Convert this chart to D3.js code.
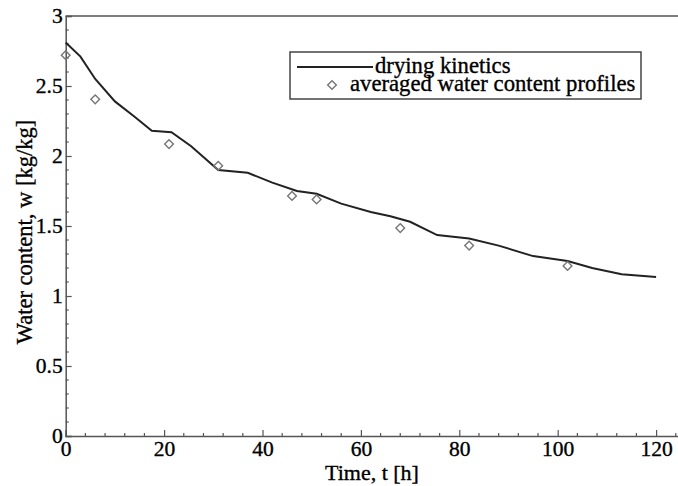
<!DOCTYPE html>
<html>
<head>
<meta charset="utf-8">
<script src="https://cdn.jsdelivr.net/npm/d3@7/dist/d3.min.js"></script>
<style>
  html, body { margin: 0; padding: 0; background: #fff; }
  svg { display: block; }
  text { font-family: "Liberation Serif", "Times New Roman", serif; fill: #000; stroke: #000; stroke-width: 0.35px; }
</style>
</head>
<body>
<svg id="chart" width="678" height="486"></svg>
<script>
// Drying kinetics curve (time h, water content kg/kg)
const lineTime  = [0, 3, 6, 10, 14, 17.5, 21.5, 25.5, 31, 37, 42, 47, 51, 56, 62, 66, 70, 75.5, 82, 88, 95, 102, 107, 113, 120];
const lineWater = [2.81, 2.71, 2.55, 2.39, 2.28, 2.18, 2.17, 2.07, 1.90, 1.88, 1.81, 1.75, 1.73, 1.66, 1.60, 1.57, 1.53, 1.435, 1.41, 1.36, 1.285, 1.25, 1.20, 1.155, 1.135];
// Averaged water content profiles
const pointTime  = [0, 6, 21, 31, 46, 51, 68, 82, 102];
const pointWater = [2.72, 2.405, 2.085, 1.93, 1.715, 1.69, 1.485, 1.36, 1.215];
// Ticks
const xTicks = [0, 20, 40, 60, 80, 100, 120];
const yTicks = [0, 0.5, 1, 1.5, 2, 2.5, 3];
const yTickLabels = ["0", "0.5", "1", "1.5", "2", "2.5", "3"];
const seriesNames = ["drying kinetics", "averaged water content profiles"];

const svg = d3.select("#chart");
const x = d3.scaleLinear().domain([0, 125]).range([65.7, 680.7]);
const y = d3.scaleLinear().domain([0, 3]).range([436, 16]);

const axisColor = "#555";
const tickFont = 21.5;

// minor ticks
const xMinor = d3.range(0, 125, 4).filter(v => v % 20 !== 0);
const yMinor = d3.range(0, 3.001, 0.1).map(v => +v.toFixed(1)).filter(v => Math.abs(v * 2 - Math.round(v * 2)) > 1e-6);

const g = svg.append("g");

// top frame line
g.append("line").attr("x1", x(0)).attr("x2", 680).attr("y1", y(3)).attr("y2", y(3))
  .attr("stroke", axisColor).attr("stroke-width", 1.5);

// x axis
const xAxis = d3.axisBottom(x).tickValues(xTicks).tickSize(-6).tickPadding(4.5).tickFormat(d3.format("d"));
const gx = g.append("g").attr("transform", `translate(0,${y(0)})`).call(xAxis);
gx.select(".domain").attr("stroke", axisColor).attr("stroke-width", 1.5);
gx.selectAll(".tick line").attr("stroke", axisColor).attr("stroke-width", 1.2);
gx.selectAll(".tick text").attr("font-size", tickFont).attr("font-family", "Liberation Serif").attr("fill", "#000");
gx.selectAll(".minor").data(xMinor).enter().append("line")
  .attr("x1", d => x(d)).attr("x2", d => x(d)).attr("y1", 0).attr("y2", -3)
  .attr("stroke", axisColor).attr("stroke-width", 1.2);

// y axis
const yAxis = d3.axisLeft(y).tickValues(yTicks).tickSize(-6).tickPadding(3).tickFormat((d, i) => yTickLabels[i]);
const gy = g.append("g").attr("transform", `translate(${x(0)},0)`).call(yAxis);
gy.select(".domain").attr("stroke", axisColor).attr("stroke-width", 1.5);
gy.selectAll(".tick line").attr("stroke", axisColor).attr("stroke-width", 1.2);
gy.selectAll(".tick text").attr("font-size", tickFont).attr("font-family", "Liberation Serif").attr("fill", "#000");
gy.selectAll(".minor").data(yMinor).enter().append("line")
  .attr("y1", d => y(d)).attr("y2", d => y(d)).attr("x1", 0).attr("x2", 3)
  .attr("stroke", axisColor).attr("stroke-width", 1.2);

// line
const lineData = lineTime.map((t, i) => [t, lineWater[i]]);
g.append("path").datum(lineData)
  .attr("d", d3.line().x(d => x(d[0])).y(d => y(d[1])))
  .attr("fill", "none").attr("stroke", "#222").attr("stroke-width", 2);

// diamonds
const diamond = d3.symbol().type(d3.symbolSquare).size(38);
const pts = pointTime.map((t, i) => [t, pointWater[i]]);
g.selectAll(".pt").data(pts).enter().append("path")
  .attr("d", diamond)
  .attr("transform", d => `translate(${x(d[0])},${y(d[1])}) rotate(45)`)
  .attr("fill", "none").attr("stroke", "#777").attr("stroke-width", 1.4);

// axis titles
svg.append("text").attr("x", 372).attr("y", 480).attr("text-anchor", "middle")
  .attr("font-size", 22).text("Time, t [h]");
svg.append("text").attr("transform", "translate(32,232) rotate(-90)").attr("text-anchor", "middle")
  .attr("font-size", 22.5).text("Water content, w [kg/kg]");

// legend
const lg = svg.append("g");
lg.append("rect").attr("x", 290).attr("y", 52).attr("width", 351).attr("height", 47)
  .attr("fill", "#fff").attr("stroke", "#444").attr("stroke-width", 1.5);
lg.append("line").attr("x1", 297).attr("x2", 373).attr("y1", 67).attr("y2", 67)
  .attr("stroke", "#222").attr("stroke-width", 2);
lg.append("text").attr("x", 375).attr("y", 72.5).attr("font-size", 22.7).text(seriesNames[0]);
lg.append("path").attr("d", diamond).attr("transform", "translate(332,85) rotate(45)")
  .attr("fill", "none").attr("stroke", "#777").attr("stroke-width", 1.4);
lg.append("text").attr("x", 350).attr("y", 91).attr("font-size", 22.7).text(seriesNames[1]);
</script>
</body>
</html>
